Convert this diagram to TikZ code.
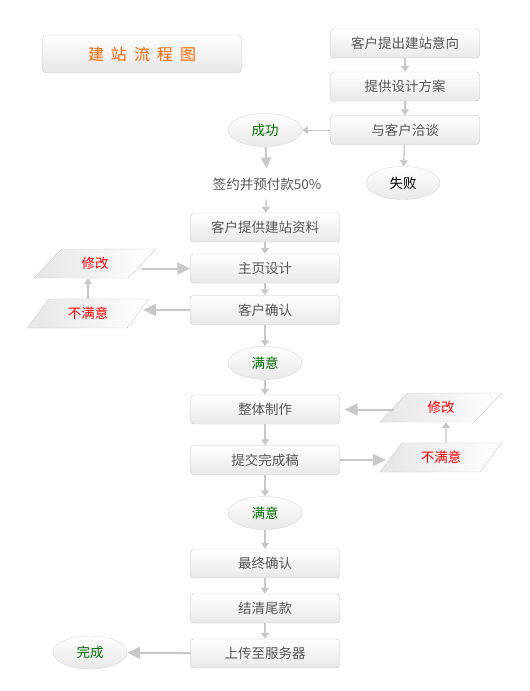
\documentclass[tikz,border=0pt]{standalone}
\usepackage{fontspec}
\setmainfont{Noto Sans CJK SC}
\usetikzlibrary{shapes.geometric, arrows.meta, positioning}
\definecolor{linegra}{RGB}{200, 200, 200}
\definecolor{txtgra}{RGB}{85, 85, 85}
\definecolor{okgreen}{RGB}{0, 110, 0}
\definecolor{titleorange}{RGB}{255, 102, 0}
\tikzset{
    titlenode/.style = {draw=black!20, rectangle, rounded corners=4pt, top color=white, bottom color=black!10,
      minimum width=199pt, minimum height=38pt, text=titleorange, font=\fontsize{16pt}{18pt}\selectfont, node distance=0em},
    stepnode/.style = {draw=linegra, rectangle, rounded corners=3pt, top color=white, bottom color=black!9,
      minimum width=149pt, minimum height=29pt, inner sep=0pt, text=txtgra,
      font=\fontsize{13.5pt}{15pt}\selectfont, node distance=0em},
    ellipsenode/.style = {draw=black!15, ellipse, top color=white, bottom color=black!9, inner sep=0pt,
      minimum width=74pt, minimum height=33pt, text=okgreen, font=\fontsize{13.5pt}{15pt}\selectfont, node distance=0em},
    slantnode/.style = {draw=linegra, trapezium, trapezium left angle=48, trapezium right angle=132,
      trapezium stretches=true, left color=black!10, right color=white, minimum width=122pt, minimum height=29pt,
      inner sep=0pt, text=red, font=\fontsize{13.5pt}{15pt}\selectfont, node distance=0em},
    textnode/.style = {draw=none, fill=none, rectangle, inner sep=9pt, text=txtgra,
      font=\fontsize{13.5pt}{15pt}\selectfont, node distance=0em},
    connect/.style = {draw=linegra, line width=1.4pt, -{Triangle[length=6pt, width=8pt]}},
    bigconnect/.style = {draw=linegra, line width=2pt, -{Triangle[length=13pt, width=12pt]}}
}

\begin{document}
\begin{tikzpicture}[x=1pt, y=-1pt]
\useasboundingbox (0,0) rectangle (530,691);

\node [titlenode, name=title] at (142,54) {建\hspace{7pt}站\hspace{7pt}流\hspace{7pt}程\hspace{7pt}图};

% talk with the customer
\node [stepnode, name=want] at (405,43.5) {客户提出建站意向};
\node [stepnode, name=plan, below of=want, yshift=-43pt] {提供设计方案};
\node [stepnode, name=talk, below of=plan, yshift=-43.5pt] {与客户洽谈};
\node [ellipsenode, name=deal, left of=talk, xshift=-140pt] {成功};
\node [ellipsenode, name=fail, text=black, below of=talk, xshift=-2pt, yshift=-53pt] {失败};
\node [textnode, name=sign, below of=deal, xshift=2pt, yshift=-54pt] {签约并预付款50\%};

% home page design
\node [stepnode, name=data, below of=deal, yshift=-97.5pt] {客户提供建站资料};
\node [stepnode, name=home, below of=data, yshift=-41pt] {主页设计};
\node [stepnode, name=check, below of=home, yshift=-41.5pt] {客户确认};
\node [slantnode, name=modleft, left of=home, xshift=-170pt, yshift=5pt] {修改};
\node [slantnode, name=badleft, left of=check, xshift=-177pt, yshift=-3.5pt] {不满意};
\node [ellipsenode, name=goodone, below of=check, yshift=-53pt] {满意};

% whole site
\node [stepnode, name=build, below of=goodone, yshift=-46.5pt] {整体制作};
\node [stepnode, name=submit, below of=build, yshift=-50.5pt] {提交完成稿};
\node [slantnode, name=modright, right of=build, xshift=176pt, yshift=2pt] {修改};
\node [slantnode, name=badright, right of=submit, xshift=176pt, yshift=2.5pt] {不满意};
\node [ellipsenode, name=goodtwo, below of=submit, yshift=-53pt] {满意};

% finish
\node [stepnode, name=final, below of=goodtwo, yshift=-50.5pt] {最终确认};
\node [stepnode, name=pay, below of=final, yshift=-45pt] {结清尾款};
\node [stepnode, name=upload, below of=pay, yshift=-45pt] {上传至服务器};
\node [ellipsenode, name=done, left of=upload, xshift=-175pt, yshift=1pt] {完成};

\draw (want) edge[connect] (plan);
\draw (plan) edge[connect] (talk);
\draw (talk) edge[connect, line width=1pt] (deal);
\draw (talk) edge[connect] (fail);
\draw (deal) edge[connect, line width=2pt, -{Triangle[length=11pt, width=10pt]}] (sign);
\draw (sign) edge[connect] (data);
\draw (data) edge[connect] (home);
\draw (home) edge[connect] (check);
\draw (check) edge[connect] (goodone);
\draw (modleft.east |- home.west) edge[bigconnect] (home.west);
\draw (check.west) edge[bigconnect, shorten >=5pt] (check.west -| badleft.east);
\draw (badleft.north) edge[connect] (badleft.north |- modleft.south);
\draw (goodone) edge[connect] (build);
\draw (build) edge[connect] (submit);
\draw (modright.west |- build.east) edge[bigconnect, shorten >=5pt] (build.east);
\draw (submit.east) edge[bigconnect, shorten >=5pt] (submit.east -| badright.west);
\draw ([xshift=5pt]badright.north) edge[connect] ([xshift=5pt]modright.south);
\draw (submit) edge[connect] (goodtwo);
\draw (goodtwo) edge[connect] (final);
\draw (final) edge[connect] (pay);
\draw (pay) edge[connect] (upload);
\draw (upload) edge[bigconnect] (done);
\end{tikzpicture}
\end{document}
